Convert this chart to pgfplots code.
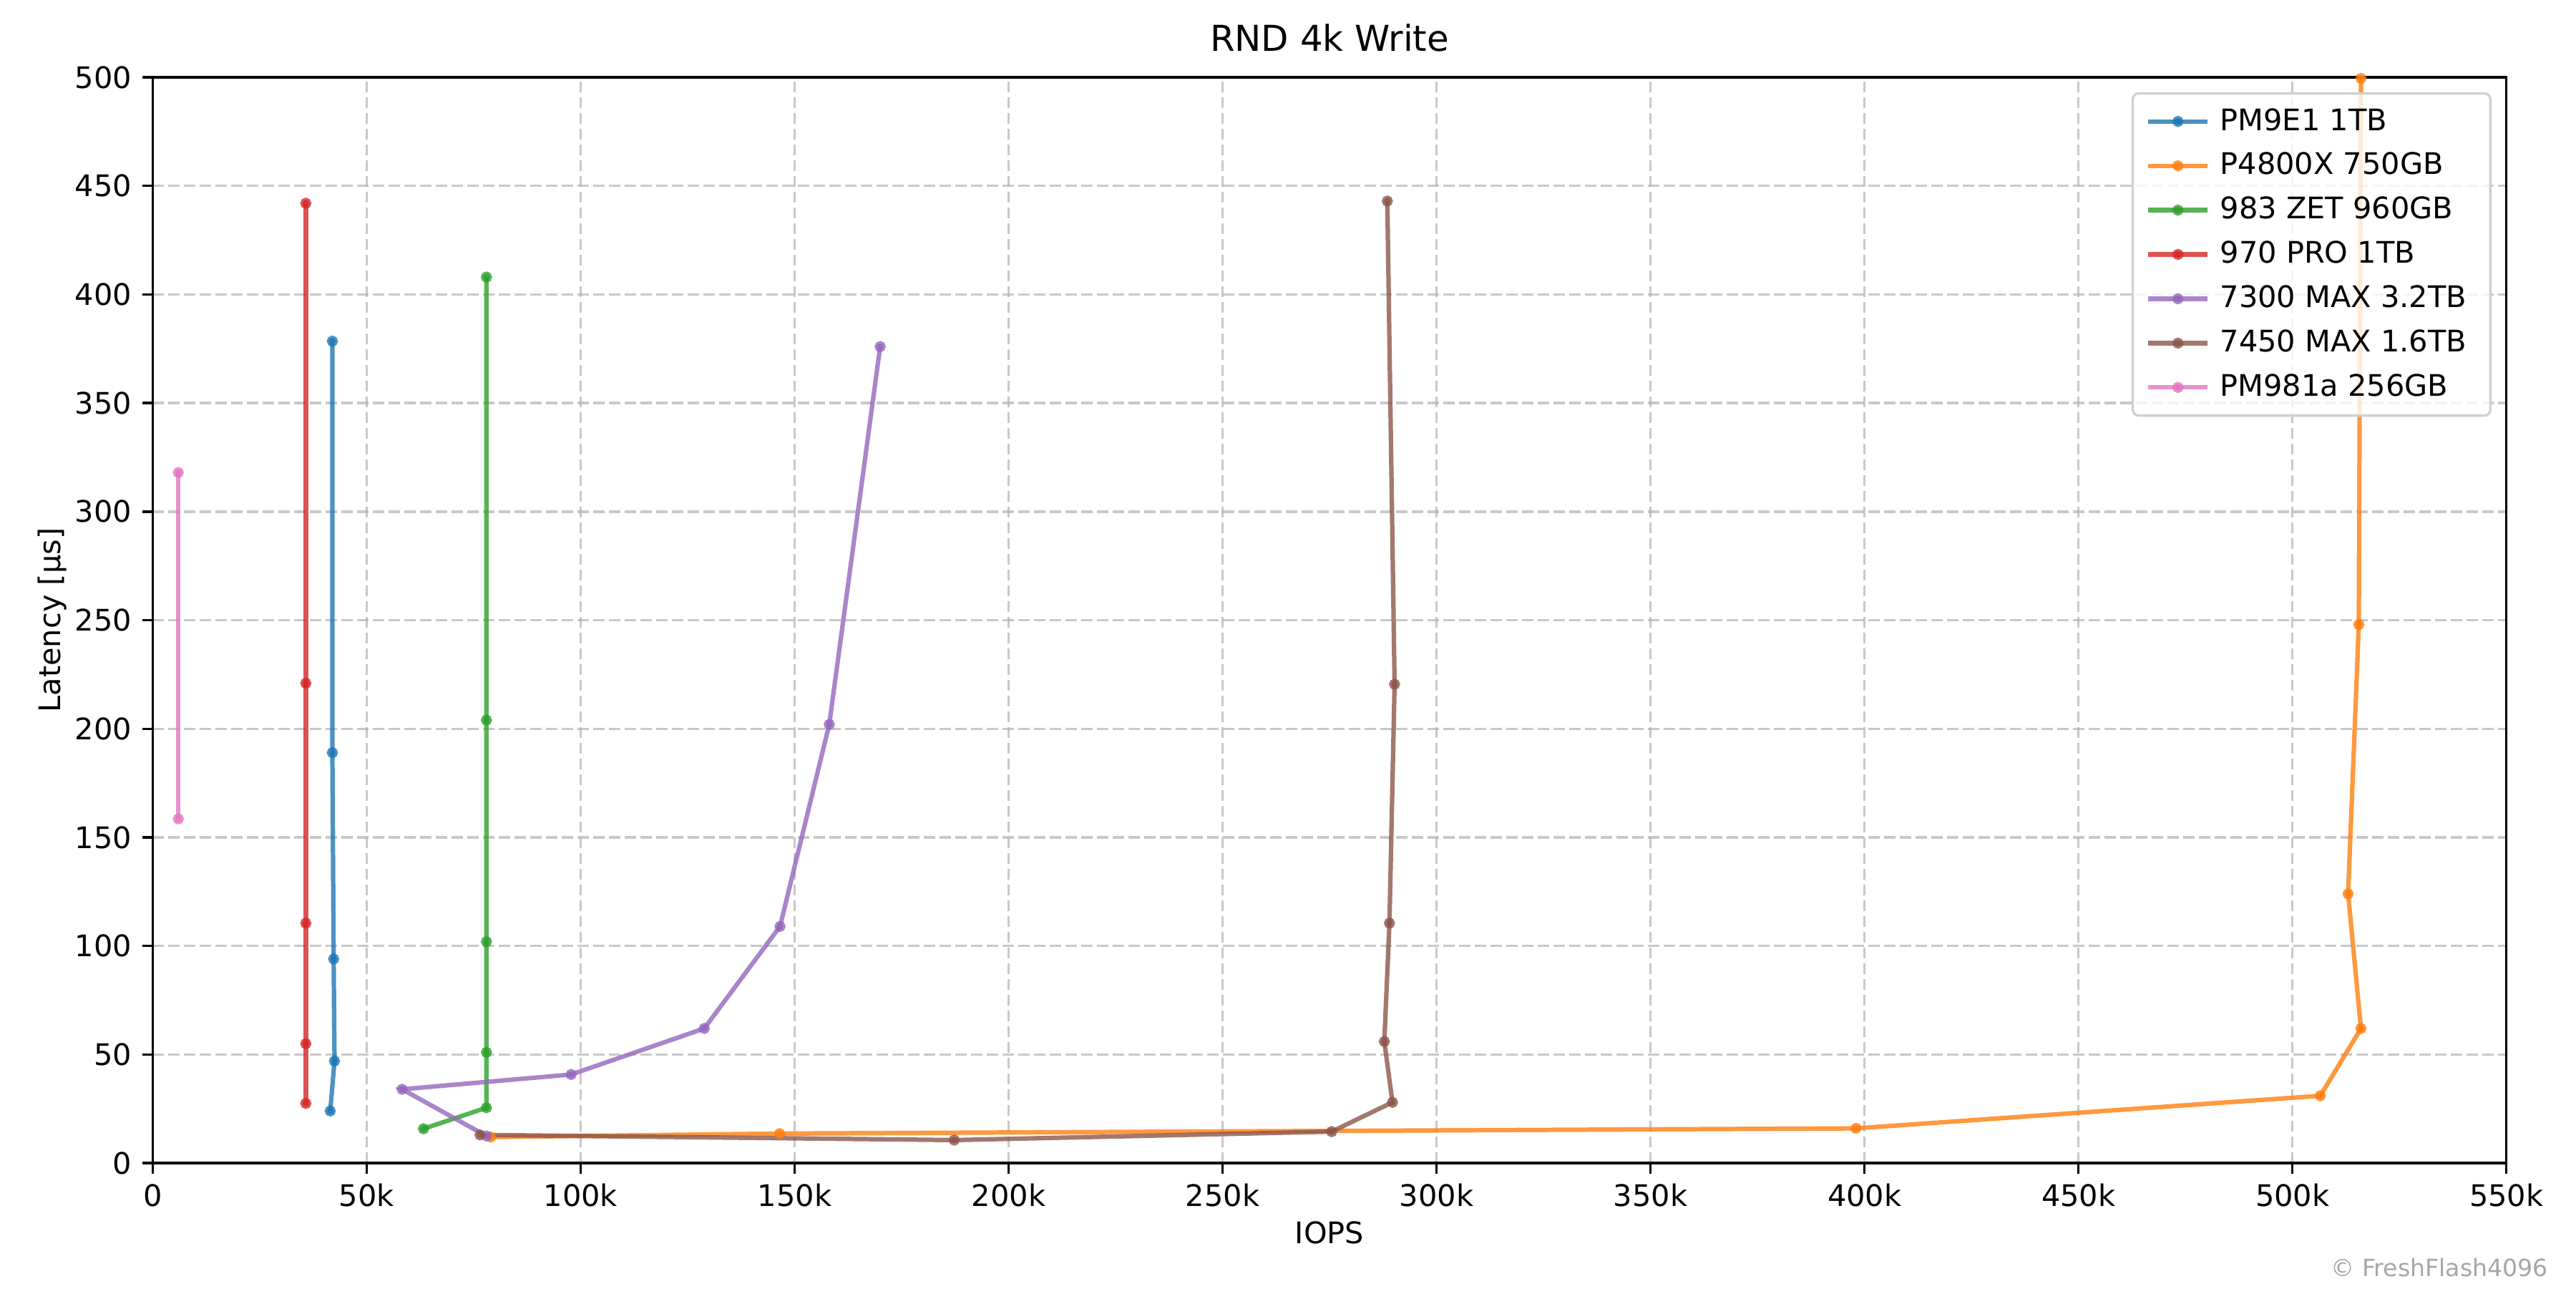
\documentclass[border=0pt]{standalone}
\usepackage{pgfplots}
\pgfplotsset{compat=1.18}
\usepackage{fontspec}
\setmainfont{DejaVu Sans}
\definecolor{c1}{HTML}{1F77B4}
\definecolor{c2}{HTML}{FF7F0E}
\definecolor{c3}{HTML}{2CA02C}
\definecolor{c4}{HTML}{D62728}
\definecolor{c5}{HTML}{9467BD}
\definecolor{c6}{HTML}{8C564B}
\definecolor{c7}{HTML}{E377C2}
\definecolor{gridc}{HTML}{B0B0B0}
\begin{document}
\begin{tikzpicture}
\begin{axis}[
  at={(0,0)}, anchor=south west,
  scale only axis,
  width=10.965in, height=5.057in,
  xmin=0, xmax=550000, ymin=0, ymax=500,
  xtick={0,50000,100000,150000,200000,250000,300000,350000,400000,450000,500000,550000},
  xticklabels={0,50k,100k,150k,200k,250k,300k,350k,400k,450k,500k,550k},
  scaled x ticks=false,
  ytick={0,50,100,150,200,250,300,350,400,450,500},
  /pgf/number format/assume math mode=true,
  tick label style={font=\fontsize{10}{12}\selectfont},
  label style={font=\fontsize{10}{12}\selectfont},
  xlabel={IOPS}, ylabel={Latency [µs]},
  xlabel style={yshift=2pt},
  ylabel style={yshift=-4pt},
  title={RND 4k Write},
  title style={font=\fontsize{12}{14}\selectfont, yshift=-1pt},
  grid=major,
  major grid style={gridc, opacity=0.7, dash pattern=on 3.7pt off 1.6pt, line width=0.8pt},
  axis line style={line width=0.8pt},
  tick style={black, line width=0.8pt},
  major tick length=3.5pt,
  tick align=outside,
  xtick pos=bottom, ytick pos=left,
  every axis plot/.append style={line width=1.5pt, opacity=0.8, mark=*, mark size=1.1pt, mark options={solid}},
  legend cell align=left,
  legend style={at={(1,1)}, anchor=north east, xshift=-5pt, yshift=-5pt,
    draw=gridc!60, line width=0.8pt, rounded corners=2pt, fill=white, fill opacity=0.8, text opacity=1,
    font=\fontsize{10}{12}\selectfont, row sep=2pt, inner xsep=4.5pt, inner ysep=3pt,
    nodes={inner xsep=3.5pt}},
  legend image code/.code={\draw[mark repeat=2, mark phase=2] plot coordinates {(0cm,0cm) (0.35cm,0cm) (0.7cm,0cm)};},
]
\addplot[c1] coordinates {(41500,24) (42500,47) (42300,94) (42000,189) (42000,378.5)};
\addlegendentry{PM9E1 1TB}
\addplot[c2] coordinates {(79000,12) (146500,13.6) (398000,16) (506500,31) (516000,62) (513000,124) (515500,248) (516000,499.5)};
\addlegendentry{P4800X 750GB}
\addplot[c3] coordinates {(63300,15.8) (78000,25.5) (78000,51) (78000,102) (78000,204) (78000,408)};
\addlegendentry{983 ZET 960GB}
\addplot[c4] coordinates {(35800,27.5) (35800,55) (35800,110.5) (35800,221) (35800,442)};
\addlegendentry{970 PRO 1TB}
\addplot[c5] coordinates {(78000,12.5) (58300,34) (97800,40.8) (128900,62) (146600,109) (158100,202) (170000,376)};
\addlegendentry{7300 MAX 3.2TB}
\addplot[c6] coordinates {(76500,13) (187300,10.6) (275500,14.5) (289700,28) (287800,56) (289000,110.5) (290200,220.5) (288500,443)};
\addlegendentry{7450 MAX 1.6TB}
\addplot[c7] coordinates {(6000,158.5) (6000,318)};
\addlegendentry{PM981a 256GB}
\end{axis}
\node[anchor=base east, text=black!35, font=\fontsize{8}{10}\selectfont, inner sep=0pt] at (11.162in,-0.527in) {© FreshFlash4096};
\pgfresetboundingbox
\useasboundingbox (-0.711in,-0.583in) rectangle (11.289in,5.417in);
\end{tikzpicture}
\end{document}
